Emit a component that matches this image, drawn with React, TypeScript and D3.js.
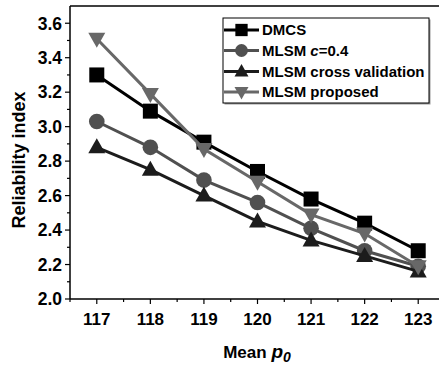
import React from "react";
import * as d3 from "d3";

const categories = [117, 118, 119, 120, 121, 122, 123];
const dmcs = [3.3, 3.09, 2.91, 2.74, 2.58, 2.44, 2.28];
const mlsmC = [3.03, 2.88, 2.69, 2.56, 2.41, 2.28, 2.19];
const mlsmCV = [2.88, 2.75, 2.6, 2.45, 2.34, 2.25, 2.16];
const mlsmProp = [3.51, 3.19, 2.87, 2.68, 2.49, 2.38, 2.19];
const yTicks = [2.0, 2.2, 2.4, 2.6, 2.8, 3.0, 3.2, 3.4, 3.6];
const seriesNames = ["DMCS", "MLSM c=0.4", "MLSM cross validation", "MLSM proposed"];

const W = 439, H = 369;
const left = 70, right = 445, top = 6, bottom = 299;

const x = d3.scaleLinear().domain([116.5, 123.5]).range([left, right]);
const y = d3.scaleLinear().domain([2.0, 3.7]).range([bottom, top]);

type Shape = "square" | "circle" | "up" | "down";
const series: { name: string; values: number[]; color: string; shape: Shape }[] = [
  { name: seriesNames[0], values: dmcs, color: "#000000", shape: "square" },
  { name: seriesNames[1], values: mlsmC, color: "#505050", shape: "circle" },
  { name: seriesNames[2], values: mlsmCV, color: "#1c1c1c", shape: "up" },
  { name: seriesNames[3], values: mlsmProp, color: "#686868", shape: "down" },
];

function Marker({ cx, cy, shape, color, k = 1 }: { cx: number; cy: number; shape: Shape; color: string; k?: number }) {
  if (shape === "square") return <rect x={cx - 7.5 * k} y={cy - 7.5 * k} width={15 * k} height={15 * k} fill={color} />;
  if (shape === "circle") return <circle cx={cx} cy={cy} r={7.8 * k} fill={color} />;
  if (shape === "up")
    return <path d={`M${cx},${cy - 9 * k}L${cx + 8.5 * k},${cy + 6 * k}L${cx - 8.5 * k},${cy + 6 * k}Z`} fill={color} />;
  return <path d={`M${cx},${cy + 9 * k}L${cx + 8.5 * k},${cy - 6 * k}L${cx - 8.5 * k},${cy - 6 * k}Z`} fill={color} />;
}

export default function App() {
  const line = d3
    .line<number>()
    .x((_, i) => x(categories[i]))
    .y((d) => y(d));
  const minorY = d3.range(2.1, 3.7, 0.2);
  const minorX = d3.range(116.5, 123.6, 1);
  const font = "'Liberation Sans', Arial, sans-serif";
  const legX = 223, legY = 18, legW = 206, legH = 85;
  const rowY = [30, 50.5, 71.5, 92];
  return (
    <svg width={W} height={H} style={{ position: "absolute", left: 0, top: 0 }} fontFamily={font}>
      <rect x={0} y={0} width={W} height={H} fill="#fff" />
      <line x1={left} y1={top} x2={W} y2={top} stroke="#000" strokeWidth={1.5} />
      <line x1={left} y1={top} x2={left} y2={bottom} stroke="#000" strokeWidth={1.5} />
      <line x1={left} y1={bottom} x2={W} y2={bottom} stroke="#000" strokeWidth={1.5} />
      {yTicks.map((t) => (
        <g key={"y" + t}>
          <line x1={left - 5} x2={left} y1={y(t)} y2={y(t)} stroke="#000" strokeWidth={1.2} />
          <text x={left - 8} y={y(t)} dy="0.36em" textAnchor="end" fontSize={17.5} fontWeight="bold">
            {t.toFixed(1)}
          </text>
        </g>
      ))}
      {minorY.map((t) => (
        <line key={"my" + t} x1={left - 3} x2={left} y1={y(t)} y2={y(t)} stroke="#000" strokeWidth={1.2} />
      ))}
      {categories.map((c) => (
        <g key={"x" + c}>
          <line x1={x(c)} x2={x(c)} y1={bottom} y2={bottom + 5} stroke="#000" strokeWidth={1.2} />
          <text x={x(c)} y={bottom + 26} textAnchor="middle" fontSize={17} fontWeight="bold">
            {c}
          </text>
        </g>
      ))}
      {minorX.map((c) => (
        <line key={"mx" + c} x1={x(c)} x2={x(c)} y1={bottom} y2={bottom + 3} stroke="#000" strokeWidth={1.2} />
      ))}
      <text transform={`translate(25,160) rotate(-90)`} textAnchor="middle" fontSize={18} fontWeight="bold">
        Reliability index
      </text>
      <text x={257} y={358} textAnchor="middle" fontSize={17} fontWeight="bold">
        Mean <tspan fontStyle="italic" fontSize={19}>p</tspan>
        <tspan fontStyle="italic" fontSize={14} dy={4}>0</tspan>
      </text>
      {series.map((s) => (
        <g key={s.name}>
          <path d={line(s.values) || ""} fill="none" stroke={s.color} strokeWidth={3} />
          {s.values.map((v, i) => (
            <Marker key={i} cx={x(categories[i])} cy={y(v)} shape={s.shape} color={s.color} />
          ))}
        </g>
      ))}
      <rect x={legX + 1.5} y={legY + 1.5} width={legW} height={legH} fill="#999" />
      <rect x={legX} y={legY} width={legW} height={legH} fill="#fff" stroke="#000" strokeWidth={1} />
      {series.map((s, i) => {
        const ry = rowY[i];
        return (
          <g key={"l" + s.name}>
            <line x1={legX + 1} x2={legX + 36} y1={ry} y2={ry} stroke={s.color} strokeWidth={3} />
            <Marker cx={legX + 18.5} cy={ry} shape={s.shape} color={s.color} k={0.82} />
            <text x={legX + 39} y={ry} dy="0.36em" fontSize={15} fontWeight="bold">
              {i === 1 ? (
                <>
                  MLSM <tspan fontStyle="italic">c</tspan>=0.4
                </>
              ) : (
                s.name
              )}
            </text>
          </g>
        );
      })}
    </svg>
  );
}
